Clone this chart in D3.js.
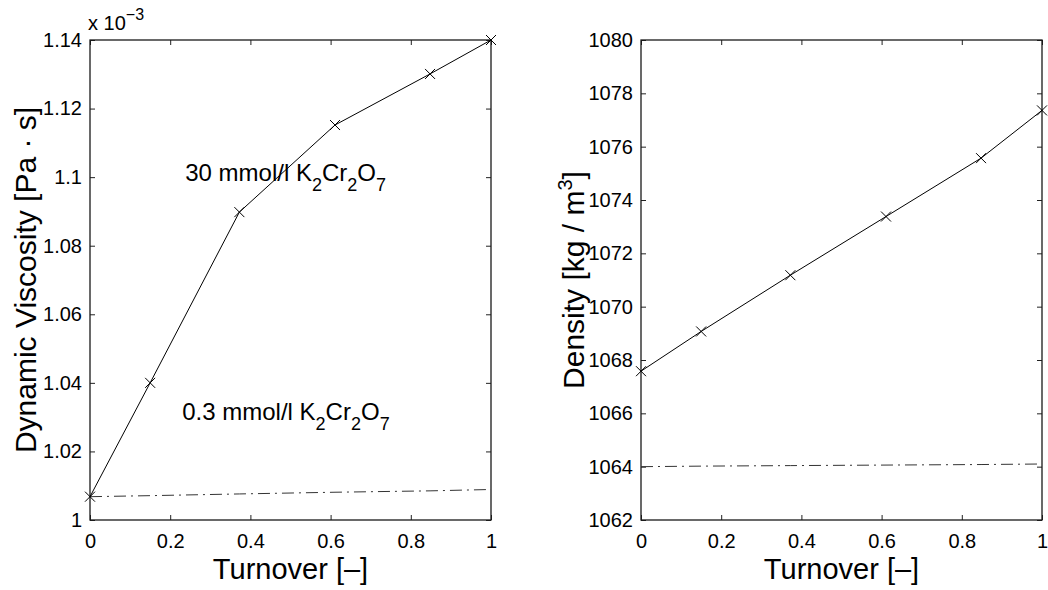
<!DOCTYPE html>
<html><head><meta charset="utf-8">
<script src="https://cdn.jsdelivr.net/npm/d3@7"></script>
<style>
body{margin:0;background:#fff;}
svg{display:block;font-family:"Liberation Sans",Arial,Helvetica,sans-serif;}
</style></head>
<body><svg id="c" width="1048" height="590"></svg>
<script>
// ---- data ----
const turnover = [0, 0.15, 0.3725, 0.611, 0.848, 1];
const viscosity30 = [1.0068, 1.040, 1.0898, 1.1152, 1.1301, 1.140];   // x 10^-3 Pa·s
const viscosity03 = [1.0068, 1.0071, 1.0076, 1.0081, 1.0085, 1.0089]; // x 10^-3 Pa·s
const density30 = [1067.58, 1069.07, 1071.18, 1073.38, 1075.57, 1077.36];
const density03 = [1064.0, 1064.02, 1064.04, 1064.06, 1064.08, 1064.1];
const xTicks = [0, 0.2, 0.4, 0.6, 0.8, 1];
const xTickLabels = ["0", "0.2", "0.4", "0.6", "0.8", "1"];
const viscTicks = [1, 1.02, 1.04, 1.06, 1.08, 1.1, 1.12, 1.14];
const viscTickLabels = ["1", "1.02", "1.04", "1.06", "1.08", "1.1", "1.12", "1.14"];
const densTicks = [1062, 1064, 1066, 1068, 1070, 1072, 1074, 1076, 1078, 1080];
const densTickLabels = densTicks.map(String);
const annotations = [
  {x: 0.2375, y: 1.099, main: "30 mmol/l K", parts: [["2","sub"],["Cr",""],["2","sub"],["O",""],["7","sub"]]},
  {x: 0.23, y: 1.0291, main: "0.3 mmol/l K", parts: [["2","sub"],["Cr",""],["2","sub"],["O",""],["7","sub"]]}
];

const svg = d3.select("#c");
const plotTop = 40, plotBottom = 520;

function panel(opts){
  const g = svg.append("g");
  const x = d3.scaleLinear().domain([0,1]).range([opts.left, opts.right]);
  const y = d3.scaleLinear().domain(opts.ydom).range([plotBottom, plotTop]);
  const tl = 5;
  const axB = d3.axisBottom(x).tickValues(xTicks).tickSize(-tl).tickFormat((d,i)=>xTickLabels[i]).tickPadding(12);
  const axT = d3.axisTop(x).tickValues(xTicks).tickSize(-tl).tickFormat("");
  const axL = d3.axisLeft(y).tickValues(opts.yticks).tickSize(-tl).tickFormat((d,i)=>opts.ylabels[i]).tickPadding(8);
  const axR = d3.axisRight(y).tickValues(opts.yticks).tickSize(-tl).tickFormat("");
  const gb = g.append("g").attr("transform",`translate(0,${plotBottom})`).call(axB);
  const gt = g.append("g").attr("transform",`translate(0,${plotTop})`).call(axT);
  const gl = g.append("g").attr("transform",`translate(${opts.left},0)`).call(axL);
  const gr = g.append("g").attr("transform",`translate(${opts.right},0)`).call(axR);
  [gb,gt,gl,gr].forEach(a=>{
    a.select(".domain").remove();
    a.selectAll(".tick line").attr("stroke","#222").attr("stroke-width",1);
    a.selectAll(".tick text").attr("fill","#000").attr("font-size",20).attr("font-family",null);
  });
  gb.selectAll(".tick text").attr("dy","0.8em");
  g.append("rect").attr("x",opts.left).attr("y",plotTop).attr("width",opts.right-opts.left).attr("height",plotBottom-plotTop)
    .attr("fill","none").attr("stroke","#1a1a1a").attr("stroke-width",1.3);
  const line = d3.line().x((d,i)=>x(turnover[i])).y(d=>y(d));
  g.append("path").datum(opts.low).attr("d",line).attr("fill","none").attr("stroke","#333")
    .attr("stroke-width",1).attr("stroke-dasharray","12,5,2,5");
  g.append("path").datum(opts.high).attr("d",line).attr("fill","none").attr("stroke","#000").attr("stroke-width",1);
  const ms = 5;
  g.selectAll(".mk").data(opts.high).enter().append("path")
    .attr("d",(d,i)=>{const cx=x(turnover[i]), cy=y(d);
      return `M${cx-ms},${cy-ms}L${cx+ms},${cy+ms}M${cx-ms},${cy+ms}L${cx+ms},${cy-ms}`;})
    .attr("stroke","#000").attr("stroke-width",1).attr("fill","none");
  g.append("text").attr("x",(opts.left+opts.right)/2).attr("y",579).attr("text-anchor","middle")
    .attr("font-size",29).text("Turnover [\u2013]");
  return {g,x,y};
}

const p1 = panel({left:90,right:491,ydom:[1,1.14],yticks:viscTicks,ylabels:viscTickLabels,high:viscosity30,low:viscosity03});
const p2 = panel({left:641,right:1042,ydom:[1062,1080],yticks:densTicks,ylabels:densTickLabels,high:density30,low:density03});

svg.append("text").attr("transform","translate(36,280) rotate(-90)").attr("text-anchor","middle")
  .attr("font-size",30).text("Dynamic Viscosity [Pa \u00B7 s]");
const dl = svg.append("text").attr("transform","translate(584,280) rotate(-90)").attr("text-anchor","middle")
  .attr("font-size",30);
dl.append("tspan").text("Density [kg / m");
dl.append("tspan").attr("font-size",20).attr("dy",-12).text("3");
dl.append("tspan").attr("dy",12).text("]");

const ex = svg.append("text").attr("x",88).attr("y",30).attr("font-size",20);
ex.append("tspan").text("x 10");
ex.append("tspan").attr("font-size",16).attr("dy",-10).text("\u22123");

annotations.forEach(a=>{
  const t = p1.g.append("text").attr("x",p1.x(a.x)).attr("y",p1.y(a.y)).attr("font-size",24);
  t.append("tspan").text(a.main);
  let down = false;
  a.parts.forEach(([s,k])=>{
    if(k==="sub"){ t.append("tspan").attr("font-size",18).attr("dy",down?0:10).text(s); down=true; }
    else { t.append("tspan").attr("dy",down?-10:0).text(s); down=false; }
  });
});
</script></body></html>
